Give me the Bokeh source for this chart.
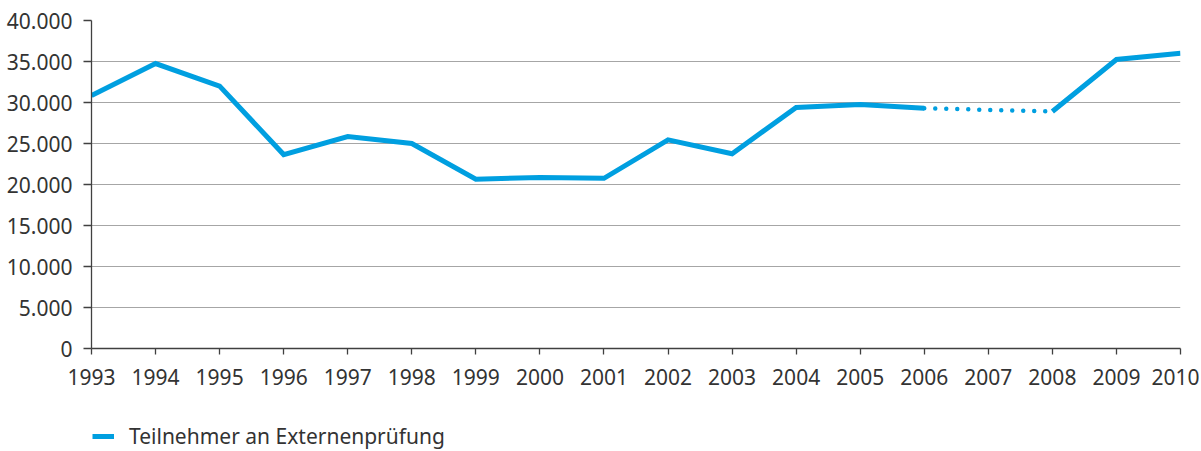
from bokeh.plotting import figure
from bokeh.layouts import column
from bokeh.models import (Range1d, FixedTicker, CustomJSTickFormatter, Legend, LegendItem)
from bokeh.embed import file_html
from bokeh.resources import INLINE

years = [1993, 1994, 1995, 1996, 1997, 1998, 1999, 2000, 2001, 2002, 2003, 2004, 2005, 2006, 2007, 2008, 2009, 2010]
teilnehmer = [30850, 34750, 32000, 23650, 25850, 25000, 20650, 20850, 20750, 25450, 23750, 29400, 29750, 29300, float('nan'), 28900, 35250, 36000]
series_name = "Teilnehmer an Externenprüfung"
y_ticks = [0, 5000, 10000, 15000, 20000, 25000, 30000, 35000, 40000]

BLUE = "#009FE0"
FONT = "Noto Sans"
TXT = "#333333"

p = figure(width=1199, height=400, output_backend="svg", toolbar_location=None,
           x_range=Range1d(years[0], years[-1]), y_range=Range1d(0, 40000),
           min_border_left=91, min_border_right=19, min_border_top=20, min_border_bottom=52)
p.outline_line_color = None
p.background_fill_color = "white"

# solid segments (gap at 2007)
p.line(years, teilnehmer, line_color=BLUE, line_width=5, line_join="miter")
# dotted bridge between 2006 and 2008
i6 = years.index(2006); i8 = years.index(2008)
p.line([years[i6], years[i8]], [teilnehmer[i6], teilnehmer[i8]], line_color=BLUE,
       line_width=4.5, line_dash="0 11", line_cap="round")

p.xaxis.ticker = FixedTicker(ticks=years)
p.yaxis.ticker = FixedTicker(ticks=y_ticks)
p.yaxis.formatter = CustomJSTickFormatter(code='return tick.toFixed(0).replace(/\\B(?=(\\d{3})+(?!\\d))/g, ".");')

for ax in (p.xaxis, p.yaxis):
    ax.axis_line_color = "#404040"
    ax.axis_line_width = 1.3
    ax.major_tick_line_color = "#404040"
    ax.major_tick_line_width = 1.3
    ax.major_tick_in = 0
    ax.minor_tick_line_color = None
    ax.major_label_text_font = FONT
    ax.major_label_text_font_size = "21px"
    ax.major_label_text_color = TXT
p.xaxis.major_tick_out = 6
p.yaxis.major_tick_out = 8
p.xaxis.major_label_standoff = 14
p.yaxis.major_label_standoff = 11

p.xgrid.grid_line_color = None
p.ygrid.grid_line_color = "#A6A6A6"
p.ygrid.grid_line_width = 1.2

# legend strip below the chart
lg = figure(width=1199, height=51, output_backend="svg", toolbar_location=None,
            x_range=Range1d(0, 1), y_range=Range1d(0, 1),
            min_border=0, min_border_left=0, min_border_right=0, min_border_top=0, min_border_bottom=0)
lg.axis.visible = False
lg.grid.visible = False
lg.outline_line_color = None
# proxy renderer (outside the visible range) for the legend swatch
legend_r = lg.line([-10, -9], [-10, -9], line_color=BLUE, line_width=5)
legend = Legend(items=[LegendItem(label=series_name, renderers=[legend_r])],
                location=(1, 1), orientation="horizontal",
                label_text_font=FONT, label_text_font_size="21px", label_text_color=TXT,
                glyph_width=22, label_standoff=15, border_line_color=None,
                background_fill_alpha=0, padding=0, margin=0)
lg.add_layout(legend, "center")

layout = column(p, lg, spacing=0)
open("out.html", "w").write(file_html(layout, INLINE))
